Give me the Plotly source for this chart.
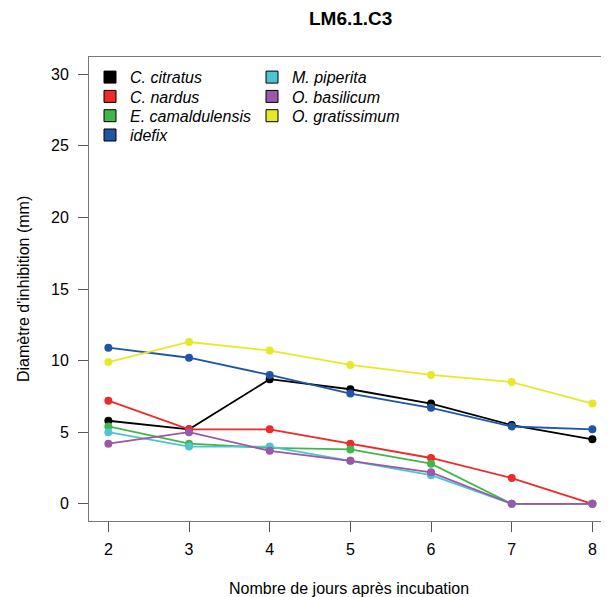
import plotly.graph_objects as go

days = [2, 3, 4, 5, 6, 7, 8]
series_names = ["C. citratus", "C. nardus", "E. camaldulensis", "idefix",
                "M. piperita", "O. basilicum", "O. gratissimum"]
c_citratus = [5.8, 5.2, 8.7, 8.0, 7.0, 5.5, 4.5]
c_nardus = [7.2, 5.2, 5.2, 4.2, 3.2, 1.8, 0.0]
e_camaldulensis = [5.4, 4.2, 3.9, 3.8, 2.8, 0.0, 0.0]
idefix = [10.9, 10.2, 9.0, 7.7, 6.7, 5.4, 5.2]
m_piperita = [5.0, 4.0, 4.0, 3.0, 2.0, 0.0, 0.0]
o_basilicum = [4.2, 5.0, 3.7, 3.0, 2.2, 0.0, 0.0]
o_gratissimum = [9.9, 11.3, 10.7, 9.7, 9.0, 8.5, 7.0]
y_ticks = [0, 5, 10, 15, 20, 25, 30]

values = [c_citratus, c_nardus, e_camaldulensis, idefix, m_piperita, o_basilicum, o_gratissimum]
colors = ["#000000", "#EE2A2A", "#43B649", "#1E56A6", "#4DC4D2", "#9C58A8", "#E8E82A"]

fig = go.Figure()
for name, vals, col in zip(series_names, values, colors):
    fig.add_trace(go.Scatter(
        x=days, y=vals, mode="lines+markers", name=name, showlegend=False,
        line=dict(color=col, width=1.8),
        marker=dict(color=col, size=8),
        hoverinfo="x+y+name",
    ))

PLOT_H = 464.0
PLOT_W = 520.0
# legend layout: two columns (filled column-wise, like R's legend(ncol=2))
row_tops = [3.2, 22.5, 41.8, 61.1]
col_lefts = [1.0, 163.0]
legend_layouts = {}
for i, (name, col) in enumerate(zip(series_names, colors)):
    key = "legend" if i == 0 else "legend%d" % (i + 1)
    fig.add_trace(go.Scatter(
        x=[None], y=[None], mode="markers", name="<i>" + name + "</i>",
        marker=dict(symbol="square", color=col, size=12, line=dict(color="#000000", width=1)),
        legend=key,
    ))
    c, r = divmod(i, 4)
    legend_layouts[key] = dict(
        x=col_lefts[c] / PLOT_W, y=1 - row_tops[r] / PLOT_H,
        xanchor="left", yanchor="top", xref="paper", yref="paper",
        bgcolor="rgba(0,0,0,0)", font=dict(size=16), itemwidth=30,
    )

fig.update_layout(**legend_layouts)

font = "Liberation Sans, Arial, sans-serif"
fig.update_layout(
    width=601, height=589,
    margin=dict(l=81, r=0, t=49, b=76),
    plot_bgcolor="white", paper_bgcolor="white",
    font=dict(family=font, size=16, color="#000000"),
    showlegend=True,
    xaxis=dict(range=[1.76, 8.206], tickvals=days, ticks="outside", ticklen=10,
               tickcolor="#555555", showline=True, linecolor="#777777", linewidth=1,
               mirror=True, showgrid=False, zeroline=False, ticklabelstandoff=4,
               tickfont=dict(size=16)),
    yaxis=dict(range=[-1.2, 31.2], tickvals=y_ticks, ticks="outside", ticklen=10,
               tickcolor="#555555", showline=True, linecolor="#777777", linewidth=1,
               showgrid=False, zeroline=False, ticklabelstandoff=6,
               tickfont=dict(size=16)),
    annotations=[
        dict(text="<b>LM6.1.C3</b>", xref="paper", yref="paper", x=(261.0) / PLOT_W, y=1.0,
             xanchor="center", yanchor="middle", yshift=39, showarrow=False,
             font=dict(size=19)),
        dict(text="Nombre de jours après incubation", xref="paper", yref="paper",
             x=(349 - 89) / PLOT_W, y=0, xanchor="center", yanchor="middle",
             yshift=-67, showarrow=False, font=dict(size=16)),
        dict(text="Diamètre d'inhibition (mm)", xref="paper", yref="paper",
             x=0, y=0.5, xanchor="center", yanchor="middle", xshift=-66,
             textangle=-90, showarrow=False, font=dict(size=16)),
    ],
)

fig.write_html("out.html")
